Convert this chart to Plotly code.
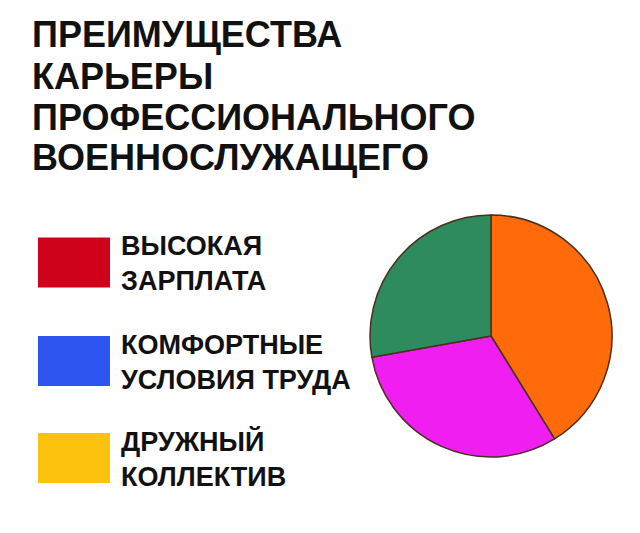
import plotly.graph_objects as go

# title lines
title_lines = ["ПРЕИМУЩЕСТВА", "КАРЬЕРЫ", "ПРОФЕССИОНАЛЬНОГО", "ВОЕННОСЛУЖАЩЕГО"]

# legend (the joke: none of these colours are in the pie)
legend_labels = ["ВЫСОКАЯ<br>ЗАРПЛАТА", "КОМФОРТНЫЕ<br>УСЛОВИЯ ТРУДА", "ДРУЖНЫЙ<br>КОЛЛЕКТИВ"]
legend_colors = ["#d0021b", "#2f55f0", "#fcc20e"]

# pie slices, clockwise from 12 o'clock
slice_names = ["orange", "magenta", "green"]
slice_values = [41.2, 31.0, 27.8]
slice_colors = ["#ff6a0a", "#f01ef0", "#2e8b5e"]

W, H = 640, 533
font_family = "Liberation Sans, Arial, sans-serif"

fig = go.Figure()

# pie placed by pixel box (page adds ~8px body margin, so coords are shifted)
fig.add_trace(go.Pie(
    labels=slice_names,
    values=slice_values,
    marker=dict(colors=slice_colors, line=dict(color="#4a3020", width=1.5)),
    sort=False,
    direction="clockwise",
    rotation=0,
    textinfo="none",
    hoverinfo="skip",
    showlegend=False,
    domain=dict(x=[362 / W, 604 / W], y=[1 - 449 / H, 1 - 207 / H]),
))

annotations = []
# title, one annotation per line to keep the tight spacing
for i, line in enumerate(title_lines):
    annotations.append(dict(
        text=line, x=22 / W, y=1 - (27 + 41 * i) / H,
        xref="paper", yref="paper", xanchor="left", yanchor="middle",
        showarrow=False,
        font=dict(family=font_family, size=36, color="#111111", weight=700),
    ))

shapes = []
box_centers = [254.5, 353, 450]
for label, col, yc in zip(legend_labels, legend_colors, box_centers):
    shapes.append(dict(
        type="rect", xref="paper", yref="paper",
        x0=30 / W, x1=102 / W, y0=1 - (yc - 25) / H, y1=1 - (yc + 25) / H,
        fillcolor=col, line=dict(width=0),
    ))
    annotations.append(dict(
        text=label, x=111 / W, y=1 - (yc + 1) / H,
        xref="paper", yref="paper", xanchor="left", yanchor="middle", align="left",
        showarrow=False,
        font=dict(family=font_family, size=27, color="#111111", weight=700),
    ))

fig.update_layout(
    width=W, height=H,
    margin=dict(l=0, r=0, t=0, b=0),
    paper_bgcolor="white",
    plot_bgcolor="white",
    annotations=annotations,
    shapes=shapes,
)

fig.write_html("out.html")
